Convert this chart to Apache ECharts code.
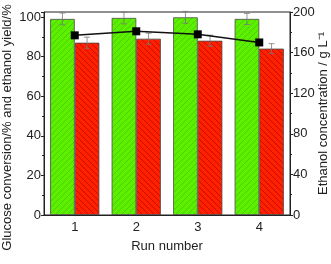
<!DOCTYPE html>
<html><head><meta charset="utf-8">
<script src="https://cdn.jsdelivr.net/npm/echarts@6/dist/echarts.min.js"></script>
<style>html,body{margin:0;padding:0;background:#fff}#c{width:331px;height:264px}</style>
</head><body><div id="c"></div>
<script>
var categories = ['1', '2', '3', '4'];
var glucoseConversion = [99, 99.5, 99.8, 99];
var glucoseErr = [3, 3, 3, 2.8];
var ethanolYield = [87, 89, 88, 84];
var yieldErr = [2.8, 2.8, 2.8, 2.5];
var ethanolConc = [177, 181, 178, 170];
var leftTicks = [0, 20, 40, 60, 80, 100];
var rightTicks = [0, 40, 80, 120, 160, 200];

function hatch(bg, line, dir) {
  var c = document.createElement('canvas');
  c.width = 6; c.height = 6;
  var x = c.getContext('2d');
  x.fillStyle = bg; x.fillRect(0, 0, 6, 6);
  x.strokeStyle = line; x.lineWidth = 0.8;
  x.beginPath();
  if (dir > 0) {
    x.moveTo(0, 6); x.lineTo(6, 0);
    x.moveTo(-3, 3); x.lineTo(3, -3);
    x.moveTo(3, 9); x.lineTo(9, 3);
  } else {
    x.moveTo(0, 0); x.lineTo(6, 6);
    x.moveTo(-3, 3); x.lineTo(3, 9);
    x.moveTo(3, -3); x.lineTo(9, 3);
  }
  x.stroke();
  return { image: c, repeat: 'repeat' };
}

var chart = echarts.init(document.getElementById('c'), null, { renderer: 'canvas' });
var font = 'Liberation Sans, Arial, sans-serif';

function errSeries(vals, errs, side) {
  return {
    type: 'custom',
    yAxisIndex: 0,
    z: 5,
    data: vals.map(function (v, i) { return [i, v - errs[i], v + errs[i]]; }),
    renderItem: function (params, api) {
      var band = api.size([1, 0])[0];
      var off = band * 0.2 * side;
      var lo = api.coord([api.value(0), api.value(1)]);
      var hi = api.coord([api.value(0), api.value(2)]);
      var x = lo[0] + off;
      var cap = 3;
      var st = { stroke: '#777', lineWidth: 0.8 };
      return { type: 'group', children: [
        { type: 'line', shape: { x1: x, y1: lo[1], x2: x, y2: hi[1] }, style: st },
        { type: 'line', shape: { x1: x - cap, y1: lo[1], x2: x + cap, y2: lo[1] }, style: st },
        { type: 'line', shape: { x1: x - cap, y1: hi[1], x2: x + cap, y2: hi[1] }, style: st }
      ]};
    }
  };
}

chart.setOption({
  animation: false,
  grid: { left: 44, right: 41, top: 12, bottom: 49, show: true, borderColor: '#222', borderWidth: 1,
    containLabel: false, outerBoundsMode: 'none' },
  xAxis: {
    type: 'category', data: categories,
    name: 'Run number', nameLocation: 'middle', nameGap: 25, nameMoveOverlap: false,
    nameTextStyle: { fontFamily: font, fontSize: 13, color: '#222' },
    axisLine: { lineStyle: { color: '#222' } },
    axisTick: { alignWithLabel: true, length: 3, lineStyle: { color: '#222' } },
    axisLabel: { fontFamily: font, fontSize: 13, color: '#222', margin: 6 }
  },
  yAxis: [{
    type: 'value', min: 0, max: 102.5, interval: 20,
    name: 'Glucose conversion/% and ethanol yield/%', nameLocation: 'middle', nameGap: 30,
    nameMoveOverlap: false,
    nameTextStyle: { fontFamily: font, fontSize: 13, color: '#222', padding: [0, 28, 0, 0] },
    axisLine: { show: true, lineStyle: { color: '#222' } },
    axisTick: { show: true, length: 3, lineStyle: { color: '#222' } },
    minorTick: { show: true, splitNumber: 2, length: 2, lineStyle: { color: '#222' } },
    splitLine: { show: false },
    axisLabel: { fontFamily: font, fontSize: 13, color: '#222', margin: 3, showMaxLabel: false,
      formatter: function (v) { return leftTicks.indexOf(v) >= 0 ? String(v) : ''; } }
  }, {
    type: 'value', min: 0, max: 200, interval: 40, position: 'right',
    name: 'Ethanol concentration / g L\u207B\u00B9', nameLocation: 'middle', nameGap: 27,
    nameRotate: 90, nameMoveOverlap: false,
    nameTextStyle: { fontFamily: font, fontSize: 13, color: '#222' },
    axisLine: { show: true, lineStyle: { color: '#222' } },
    axisTick: { show: true, length: 3, lineStyle: { color: '#222' } },
    minorTick: { show: true, splitNumber: 2, length: 2, lineStyle: { color: '#222' } },
    splitLine: { show: false },
    axisLabel: { fontFamily: font, fontSize: 13, color: '#222', margin: 3,
      formatter: function (v) { return rightTicks.indexOf(v) >= 0 ? String(v) : ''; } }
  }],
  series: [{
    type: 'bar', data: glucoseConversion, yAxisIndex: 0,
    barGap: '0%', barCategoryGap: '20%',
    itemStyle: { color: hatch('#5cf000', '#46c800', 1), borderColor: '#4a4a4a', borderWidth: 0.8 }
  }, {
    type: 'bar', data: ethanolYield, yAxisIndex: 0,
    barGap: '0%', barCategoryGap: '20%',
    itemStyle: { color: hatch('#ff2000', '#b80a00', -1), borderColor: '#4a4a4a', borderWidth: 0.8 }
  },
  errSeries(glucoseConversion, glucoseErr, -1),
  errSeries(ethanolYield, yieldErr, 1),
  {
    type: 'line', data: ethanolConc, yAxisIndex: 1, z: 10,
    symbol: 'rect', symbolSize: 8,
    lineStyle: { color: '#111', width: 1.5 },
    itemStyle: { color: '#000' }
  }]
});
</script></body></html>
